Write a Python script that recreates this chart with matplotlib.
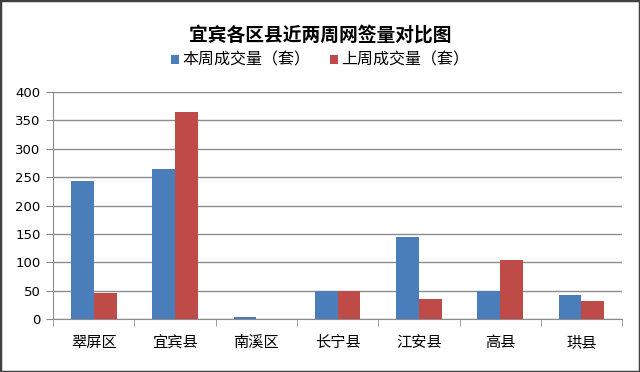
import matplotlib.pyplot as plt
import numpy as np
from matplotlib.patches import Rectangle

plt.rcParams['font.family'] = ['Noto Sans CJK SC', 'DejaVu Sans']

# weekly online-signed deals per district
districts = ['翠屏区', '宜宾县', '南溪区', '长宁县', '江安县', '高县', '珙县']
this_week = [243, 264, 4, 50, 145, 50, 43]
last_week = [45, 364, 0, 50, 35, 104, 32]
yticks = [0, 50, 100, 150, 200, 250, 300, 350, 400]

fig = plt.figure(figsize=(6.4, 3.72), dpi=100)
ax = fig.add_axes([0.083, 0.1425, 0.889, 0.61])

x = np.arange(len(districts))
w = 0.28
ax.bar(x - w / 2, this_week, w, color='#4a7ebb', label='本周成交量（套）', zorder=3)
ax.bar(x + w / 2, last_week, w, color='#be4b48', label='上周成交量（套）', zorder=3)

ax.set_xlim(-0.5, len(districts) - 0.5)
ax.set_ylim(0, 400)
ax.set_yticks(yticks)
ax.set_yticklabels([str(v) for v in yticks], family='DejaVu Sans', fontsize=9.5)
ax.yaxis.grid(True, color='#8c8c8c', linewidth=1, zorder=0)

ax.set_xticks(x)
ax.set_xticklabels(districts, fontsize=11)
ax.set_xticks(np.arange(len(districts) + 1) - 0.5, minor=True)
ax.tick_params(axis='x', which='major', length=0, pad=11)
ax.tick_params(axis='x', which='minor', length=5, color='#8c8c8c', direction='out')
ax.tick_params(axis='y', length=5, color='#8c8c8c', pad=4)

for side in ['top', 'right']:
    ax.spines[side].set_visible(False)
ax.spines['left'].set_color('#8c8c8c')
ax.spines['bottom'].set_color('#8c8c8c')

fig.text(0.5, 0.905, '宜宾各区县近两周网签量对比图', ha='center', va='center',
         fontsize=13.5, fontweight='bold')
fig.legend(loc='center', bbox_to_anchor=(0.5, 0.838), ncol=2, frameon=False,
           fontsize=11.5, handlelength=0.5, handleheight=0.5,
           handletextpad=0.2, columnspacing=1.2)

fig.patches.append(Rectangle((0, 0), 1, 1, transform=fig.transFigure,
                             fill=False, edgecolor='#404040', linewidth=2.5))

fig.savefig('out.png', dpi=100)
